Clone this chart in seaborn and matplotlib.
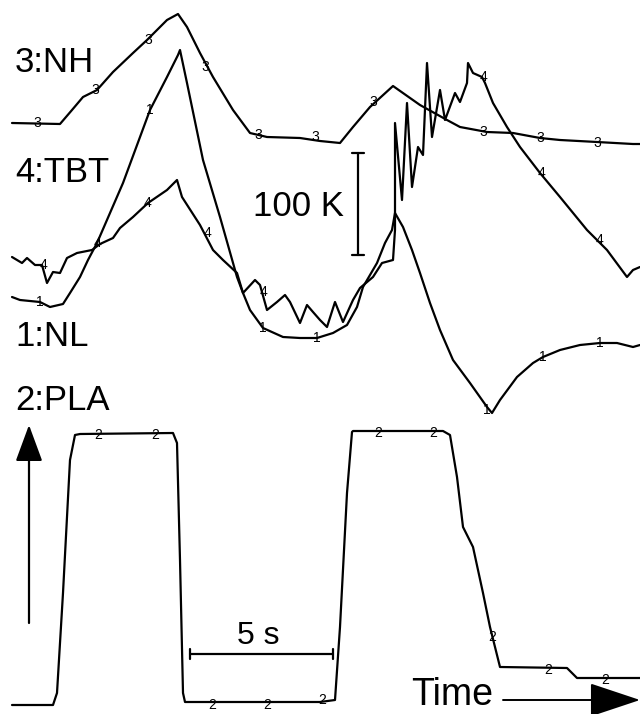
import matplotlib
matplotlib.use("Agg")
import matplotlib.pyplot as plt
import seaborn as sns
import pandas as pd

sns.set_theme(style="white")
plt.rcParams['font.family'] = ['Liberation Sans', 'DejaVu Sans']
plt.rcParams['text.color'] = 'black'

# ---- traces (time axis, signal axis; screen-like units) ----
nh_t = [12, 60, 72, 83, 97, 113, 133, 147, 167, 178, 187, 200, 213, 233, 250, 267, 300, 320,
        340, 353, 370, 393, 420, 447, 460, 487, 513, 540, 560, 597, 633, 640]
nh_y = [123, 124, 110, 97, 90, 72, 53, 40, 20, 14, 27, 53, 77, 110, 133, 137, 138, 141,
        143, 127, 107, 86, 105, 120, 127, 132, 133, 138, 140, 142, 144, 144]

nl_t = [12, 20, 40, 50, 63, 70, 80, 88, 97, 110, 123, 150, 167, 178, 180, 187, 203, 220,
        237, 243, 250, 263, 283, 300, 317, 333, 347, 357, 363, 377, 385, 392, 395, 403, 412,
        420, 430, 440, 453, 470, 487, 492, 500, 517, 533, 543, 560, 580, 600, 617, 633, 640]
nl_y = [297, 300, 302, 307, 304, 293, 277, 260, 243, 213, 183, 110, 77, 55, 50, 83, 160,
        217, 277, 293, 310, 328, 337, 338, 338, 333, 325, 307, 287, 263, 243, 230, 213, 227, 250,
        273, 303, 330, 360, 383, 407, 413, 400, 377, 363, 357, 350, 345, 343, 343, 347, 345]

tbt_t = [12, 22, 27, 35, 42, 47, 53, 60, 67, 77, 92, 100, 113, 120, 133, 148, 167, 177, 182, 200,
         213, 223, 237, 243, 255, 260, 267, 277, 285, 290, 300, 307, 313, 320, 327, 335, 343,
         353, 360, 373, 382, 393, 395, 395, 402, 407, 412, 418, 423, 427, 432, 440, 445, 455,
         460, 467, 468, 473, 482, 485, 493, 507, 520, 540, 560, 587, 607, 627, 633, 640]
tbt_y = [257, 263, 258, 265, 265, 283, 272, 273, 258, 253, 250, 244, 238, 228, 217, 203, 190, 180,
         197, 225, 250, 260, 273, 293, 280, 285, 310, 302, 295, 302, 323, 305, 312, 320, 327,
         302, 322, 300, 288, 277, 263, 260, 230, 123, 200, 103, 187, 147, 155, 63, 137, 90,
         120, 93, 102, 83, 63, 73, 77, 83, 103, 127, 147, 173, 197, 230, 250, 277, 270, 267]

pla_t = [12, 53, 57, 63, 70, 75, 80, 173, 177, 180, 183, 185, 320, 335, 340, 347, 352, 353,
         443, 450, 457, 463, 473, 483, 490, 500, 567, 577, 640]
pla_y = [705, 705, 693, 593, 460, 435, 434, 433, 443, 560, 693, 702, 702, 700, 627, 493, 432,
         431, 431, 435, 477, 527, 547, 593, 627, 667, 668, 678, 678]

# trace-number tags drawn along each curve
nh_tags_t = [37, 95, 148, 205, 258, 315, 373, 483, 540, 597]
nh_tags_y = [123, 90, 40, 67, 135, 137, 102, 132, 138, 143]
pla_tags_t = [98, 155, 212, 267, 322, 378, 433, 492, 548, 605]
pla_tags_y = [435, 435, 705, 705, 700, 433, 433, 637, 670, 680]
nl_tags_t = [40, 150, 263, 317, 487, 543, 600]
nl_tags_y = [302, 110, 328, 338, 410, 357, 343]
tbt_tags_t = [43, 97, 148, 207, 263, 483, 542, 600]
tbt_tags_y = [265, 243, 203, 233, 292, 77, 173, 240]

labels = ["3:NH", "4:TBT", "1:NL", "2:PLA"]

frames = []
for name, t, y in [("NH", nh_t, nh_y), ("NL", nl_t, nl_y), ("TBT", tbt_t, tbt_y), ("PLA", pla_t, pla_y)]:
    frames.append(pd.DataFrame({"t": t, "y": y, "trace": name, "order": range(len(t))}))
df = pd.concat(frames, ignore_index=True)

fig = plt.figure(figsize=(6.4, 7.14), dpi=100)
ax = fig.add_axes([0, 0, 1, 1])
sns.lineplot(data=df, x="t", y="y", units="trace", estimator=None, sort=False,
             color="black", lw=1.6, ax=ax)
ax.set_xlim(0, 640)
ax.set_ylim(714, 0)
ax.axis("off")

for tt, yy, s in [(nh_tags_t, nh_tags_y, "3"), (pla_tags_t, pla_tags_y, "2"),
                  (nl_tags_t, nl_tags_y, "1"), (tbt_tags_t, tbt_tags_y, "4")]:
    for a, b in zip(tt, yy):
        ax.text(a, b, s, fontsize=10, ha="center", va="center", color="black")

FS = 25
# trace labels
ax.text(15, 62, labels[0], fontsize=FS, ha="left", va="center")
ax.text(15, 173, labels[1], fontsize=FS, ha="left", va="center")
ax.text(15, 337, labels[2], fontsize=FS, ha="left", va="center")
ax.text(15, 400, labels[3], fontsize=FS, ha="left", va="center")

# 100 K scale bar
ax.text(253, 207, "100 K", fontsize=FS, ha="left", va="center")
ax.plot([358, 358], [153, 255], color="black", lw=1.6)
ax.plot([352, 364], [153, 153], color="black", lw=1.6)
ax.plot([352, 364], [255, 255], color="black", lw=1.6)

# 5 s scale bar
ax.text(258, 636, "5 s", fontsize=23, ha="center", va="center")
ax.plot([190, 333], [654, 654], color="black", lw=1.6)
ax.plot([190, 190], [649, 659], color="black", lw=1.6)
ax.plot([333, 333], [649, 659], color="black", lw=1.6)

# vertical arrow
ax.annotate("", xy=(29, 425), xytext=(29, 623), annotation_clip=False,
            arrowprops=dict(arrowstyle="-|>,head_length=1.9,head_width=0.7", color="black",
                            lw=1.6, shrinkA=0, shrinkB=0))
# time arrow
ax.text(411, 695, "Time", fontsize=27, ha="left", va="center")
ax.annotate("", xy=(640, 700), xytext=(503, 700), annotation_clip=False,
            arrowprops=dict(arrowstyle="-|>,head_length=2.7,head_width=0.9", color="black",
                            lw=1.4, shrinkA=0, shrinkB=0))

fig.savefig("out.png", dpi=100)
